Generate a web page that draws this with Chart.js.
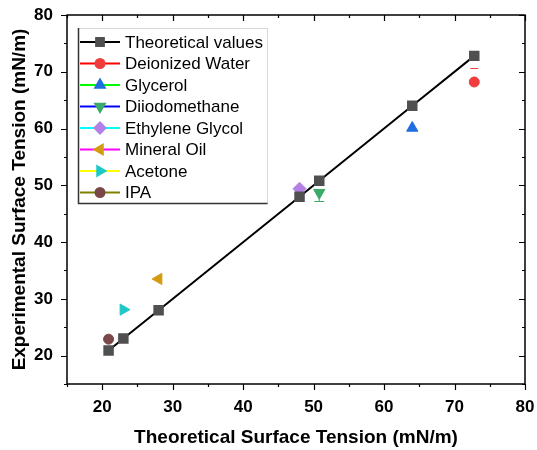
<!DOCTYPE html>
<html>
<head>
<meta charset="utf-8">
<script src="https://cdn.jsdelivr.net/npm/chart.js@4.4.0/dist/chart.umd.min.js"></script>
<style>
  html, body { margin: 0; padding: 0; background: #fff; }
  #wrap { width: 537px; height: 450px; }
</style>
</head>
<body>
<div id="wrap"><canvas id="c" width="537" height="450"></canvas></div>
<script>
// values
var theoX = [20.9, 23, 28, 48, 50.8, 64, 72.8];
var theoY = [20.9, 23, 28, 48, 50.8, 64, 72.8];

var liquids = ['Deionized Water', 'Glycerol', 'Diiodomethane', 'Ethylene Glycol', 'Mineral Oil', 'Acetone', 'IPA'];
var liquidX = [72.8, 64, 50.8, 48, 28, 23, 20.9];
var liquidY = [68.2, 60.1, 48.7, 49.4, 33.5, 28.1, 22.9];
var errUp = [2.4, 0, 0, 0, 0, 0, 0];
var errDown = [0, 0, 1.5, 0, 0, 0, 0];

var xTicks = [20, 30, 40, 50, 60, 70, 80];
var yTicks = [20, 30, 40, 50, 60, 70, 80];
var minorTicks = [15, 25, 35, 45, 55, 65, 75];

// styles
var lineColors = ['#ff0000', '#00ff00', '#0000ff', '#00ffff', '#ff00ff', '#ffff00', '#808000'];
var markColors = ['#f03c3c', '#1f6fe0', '#3aaa6a', '#b380e6', '#d49a10', '#1ec8c8', '#7a4848'];
var markStyles = ['circle', 'triangle', 'triangle', 'rectRot', 'triangle', 'triangle', 'circle'];
var markRot = [0, 0, 180, 0, -90, 90, 0];

var datasets = [{
  label: 'Theoretical values',
  data: theoX.map(function (x, i) { return { x: x, y: theoY[i] }; }),
  showLine: true,
  borderColor: '#000',
  borderWidth: 2,
  pointStyle: 'rect',
  pointRadius: 6,
  pointBackgroundColor: '#505050',
  pointBorderColor: '#505050',
  legLine: '#000', legMark: '#505050', legStyle: 'rect', legRot: 0
}];
liquids.forEach(function (name, i) {
  datasets.push({
    label: name,
    data: [{ x: liquidX[i], y: liquidY[i] }],
    showLine: false,
    pointStyle: markStyles[i],
    rotation: markRot[i],
    pointRadius: markStyles[i] === 'circle' ? 5 : 6.5,
    pointBackgroundColor: markColors[i],
    pointBorderColor: markColors[i],
    errUp: errUp[i], errDown: errDown[i],
    legLine: lineColors[i], legMark: markColors[i], legStyle: markStyles[i], legRot: markRot[i]
  });
});

// error bars, frame with ticks, legend
var extras = {
  id: 'extras',
  beforeDatasetsDraw: function (chart) {
    var ctx = chart.ctx, xs = chart.scales.x, ys = chart.scales.y;
    ctx.save();
    chart.data.datasets.forEach(function (ds) {
      var p = ds.data[0];
      var px = xs.getPixelForValue(p.x);
      ctx.strokeStyle = ds.pointBackgroundColor;
      ctx.lineWidth = 1;
      ctx.beginPath();
      if (ds.errUp) {
        var top = Math.round(ys.getPixelForValue(p.y + ds.errUp)) + 0.5;
        ctx.moveTo(px - 4, top); ctx.lineTo(px + 4, top);
      }
      if (ds.errDown) {
        var bot = Math.round(ys.getPixelForValue(p.y - ds.errDown)) + 0.5;
        ctx.moveTo(px, ys.getPixelForValue(p.y)); ctx.lineTo(px, bot);
        ctx.moveTo(px - 5, bot); ctx.lineTo(px + 5, bot);
      }
      ctx.stroke();
    });
    ctx.restore();
  },
  afterDraw: function (chart) {
    var ctx = chart.ctx, a = chart.chartArea, xs = chart.scales.x, ys = chart.scales.y;
    ctx.save();
    ctx.strokeStyle = '#000';
    ctx.lineWidth = 1.5;
    ctx.strokeRect(a.left, a.top, a.right - a.left, a.bottom - a.top);
    ctx.lineWidth = 1.2;
    ctx.beginPath();
    function xt(v, len) {
      var px = Math.round(xs.getPixelForValue(v)) + 0.5;
      ctx.moveTo(px, a.bottom); ctx.lineTo(px, a.bottom + len);
      ctx.moveTo(px, a.top); ctx.lineTo(px, a.top + len);
    }
    function yt(v, len) {
      var py = Math.round(ys.getPixelForValue(v)) + 0.5;
      ctx.moveTo(a.left, py); ctx.lineTo(a.left - len, py);
      ctx.moveTo(a.right, py); ctx.lineTo(a.right - len, py);
    }
    xTicks.forEach(function (v) { xt(v, 6); });
    yTicks.forEach(function (v) { yt(v, 6); });
    minorTicks.forEach(function (v) { xt(v, 3); yt(v, 3); });
    ctx.stroke();

    // legend
    var lx = 78, ly = 28, lw = 189, lh = 175, row = 21.5;
    ctx.strokeStyle = '#d8d8d8';
    ctx.lineWidth = 1;
    ctx.strokeRect(lx + 0.5, ly + 0.5, lw, lh);
    ctx.strokeStyle = '#333';
    ctx.lineWidth = 1.5;
    ctx.beginPath();
    ctx.moveTo(lx + 0.5, ly); ctx.lineTo(lx + 0.5, ly + lh + 0.5); ctx.lineTo(lx + lw + 0.5, ly + lh + 0.5);
    ctx.stroke();
    ctx.font = '17px "Liberation Sans", Arial, sans-serif';
    ctx.textBaseline = 'middle';
    chart.data.datasets.forEach(function (ds, i) {
      var y = ly + 14 + i * row;
      ctx.strokeStyle = ds.legLine;
      ctx.lineWidth = 2;
      ctx.beginPath(); ctx.moveTo(80, y); ctx.lineTo(120, y); ctx.stroke();
      ctx.fillStyle = ds.legMark;
      ctx.strokeStyle = ds.legMark;
      Chart.helpers.drawPoint(ctx, {
        pointStyle: ds.legStyle, rotation: ds.legRot,
        radius: ds.legStyle === 'circle' ? 4.5 : 5.5, borderWidth: 1
      }, 100, y);
      ctx.fillStyle = '#000';
      ctx.fillText(ds.label, 125, y + 1);
    });
    ctx.restore();
  }
};

var tickFont = { family: '"Liberation Sans", Arial, sans-serif', size: 17, weight: 'bold' };
var titleFont = { family: '"Liberation Sans", Arial, sans-serif', size: 19, weight: 'bold' };

new Chart(document.getElementById('c').getContext('2d'), {
  type: 'scatter',
  data: { datasets: datasets },
  options: {
    responsive: false,
    animation: false,
    layout: { padding: { top: 15, right: 12, left: 0, bottom: 0 } },
    plugins: { legend: { display: false }, tooltip: { enabled: false } },
    scales: {
      x: {
        min: 15, max: 80,
        grid: { display: false },
        border: { display: false },
        afterBuildTicks: function (s) { s.ticks = xTicks.map(function (v) { return { value: v }; }); },
        afterFit: function (s) { s.height = 66; s.paddingLeft = 0; s.paddingRight = 0; },
        ticks: { color: '#000', font: tickFont, padding: 5, maxRotation: 0 },
        title: { display: true, text: 'Theoretical Surface Tension (mN/m)', color: '#000', font: titleFont, padding: { top: 2, bottom: 1 } }
      },
      y: {
        min: 15, max: 80,
        grid: { display: false },
        border: { display: false },
        afterBuildTicks: function (s) { s.ticks = yTicks.map(function (v) { return { value: v }; }); },
        afterFit: function (s) { s.width = 67; s.paddingTop = 0; s.paddingBottom = 0; },
        ticks: { color: '#000', font: tickFont, padding: 6 },
        title: { display: true, text: 'Experimental Surface Tension (mN/m)', color: '#000', font: titleFont, padding: { top: 8, bottom: 2 } }
      }
    }
  },
  plugins: [extras]
});
</script>
</body>
</html>
